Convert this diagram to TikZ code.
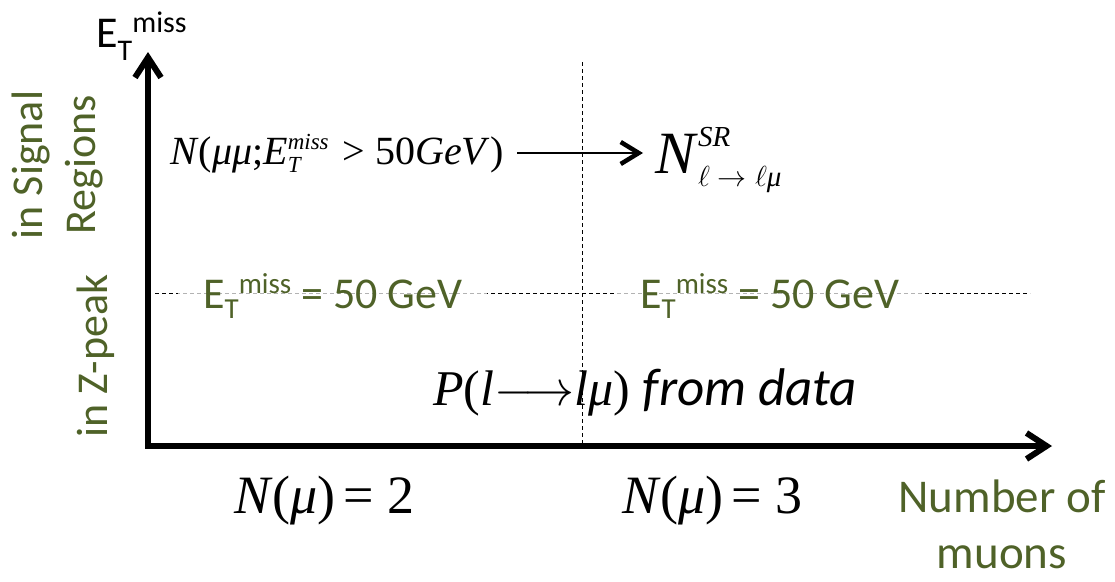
\documentclass[tikz,border=0pt]{standalone}
\usepackage{fix-cm}
\usepackage{fontspec}
\setmainfont{Liberation Serif}
\newfontfamily\carl{Carlito}
\usetikzlibrary{arrows.meta}
\definecolor{olivegrn}{RGB}{79,98,40}
\newcommand\supsub[5]{% #1 size, #2 raise, #3 lower, #4 sup, #5 sub
  \setbox0\hbox{\fontsize{#1}{#1}\selectfont #4}%
  \setbox2\hbox{\fontsize{#1}{#1}\selectfont #5}%
  \dimen0=\wd0 \ifdim\wd2>\dimen0 \dimen0=\wd2\fi
  \rlap{\raisebox{#2}{\copy0}}\rlap{\raisebox{-#3}{\copy2}}\kern\dimen0\relax}
\tikzset{
  axisline/.style={line width=6pt, line join=miter,
    {Straight Barb[length=20pt,width=26pt]}-{Straight Barb[length=20pt,width=26pt]}},
  guide/.style={line width=0.9pt, dash pattern=on 4pt off 3pt},
  grntxt/.style={text=olivegrn, font=\carl\fontsize{44}{52}\selectfont, inner sep=0pt},
  grnlabel/.style={grntxt, fill=white, fill opacity=0.7, text opacity=1, inner xsep=25pt, inner ysep=2pt, anchor=base west},
  mathtxt/.style={text=black, inner sep=0pt, anchor=base west},
  linkarrow/.style={line width=2pt, -{Straight Barb[length=18pt,width=22pt,line width=4.5pt]}}
}
\begin{document}
\begin{tikzpicture}[x=1pt,y=-1pt]
\path[use as bounding box] (0,0) rectangle (1115,581);
% guide lines
\coordinate (vtop) at (582,62);
\coordinate (vbot) at (582,445);
\coordinate (hl) at (155,293);
\coordinate (hr) at (1030,293);
\draw[guide] (vtop) -- (vbot);
\draw[guide] (hl) -- (hr);
% axes
\coordinate (ytip) at (148,52);
\coordinate (corner) at (148,446);
\coordinate (xtip) at (1052,446);
\draw[axisline] (ytip) -- (corner) -- (xtip);
% axis title
\node[anchor=base west, inner sep=0pt, font=\carl\fontsize{44}{52}\selectfont] (ylabel) at (96,47)
  {E\raisebox{-13pt}{\fontsize{30}{30}\selectfont T}\raisebox{15pt}{\fontsize{30}{30}\selectfont miss}};
% side labels
\node[grntxt, rotate=90, align=center, font=\carl\fontsize{44}{53}\selectfont] (sig) at (58,165) {in Signal\\Regions};
\node[grntxt, rotate=90] (zpk) at (96,356) {in Z-peak};
% threshold labels
\node[grnlabel] (lab1) at (178,308)
  {E\raisebox{-10pt}{\fontsize{29}{29}\selectfont T}\raisebox{15pt}{\fontsize{29}{29}\selectfont miss} = 50 GeV};
\node[grnlabel] (lab2) at (615,308)
  {E\raisebox{-10pt}{\fontsize{29}{29}\selectfont T}\raisebox{15pt}{\fontsize{29}{29}\selectfont miss} = 50 GeV};
% formula with arrow
\node[mathtxt, font=\fontsize{40}{46}\selectfont] (f1) at (170,164)
  {\textit{N}(\textit{μμ};\textit{E}\supsub{23pt}{15pt}{8pt}{\textit{miss}}{\textit{T}}\hspace{0.35em}>\hspace{0.25em}50\textit{GeV})};
\node[mathtxt, font=\fontsize{60}{70}\selectfont] (nsr) at (655,173)
  {\textit{N}\supsub{29pt}{27pt}{13pt}{\textit{SR}}{$\ell\rightarrow\ell$\textit{μ}}};
\coordinate (a1) at (517,153);
\coordinate (a2) at (643,153);
\draw[linkarrow] (a1) -- (a2);
% probability
\node[mathtxt, font=\fontsize{50}{60}\selectfont] (prob) at (433,405)
  {\textit{P}(\textit{l}$\longrightarrow$\textit{lμ}) {\carl\itshape\fontsize{53}{60}\selectfont from data}};
% muon counts
\node[mathtxt, font=\fontsize{54}{60}\selectfont] (n2) at (234,513)
  {\textit{N}(\textit{μ})\hspace{0.15em}=\hspace{0.25em}2};
\node[mathtxt, font=\fontsize{54}{60}\selectfont] (n3) at (622,513)
  {\textit{N}(\textit{μ})\hspace{0.15em}=\hspace{0.25em}3};
\node[grntxt, font=\carl\fontsize{47}{56}\selectfont, align=center, anchor=north] (xlabel) at (1002,480) {Number of\\muons};
\end{tikzpicture}
\end{document}
